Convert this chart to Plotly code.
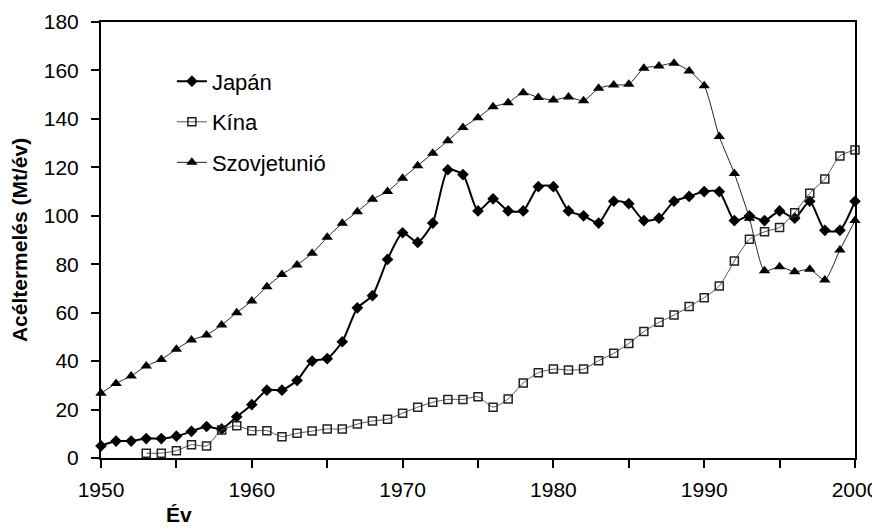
import plotly.graph_objects as go

years = list(range(1950, 2001))

japan = [5, 7, 7, 8, 8, 9, 11, 13, 12, 17,
         22, 28, 28, 32, 40, 41, 48, 62, 67, 82,
         93, 89, 97, 119, 117, 102, 107, 102, 102, 112,
         112, 102, 100, 97, 106, 105, 98, 99, 106, 108,
         110, 110, 98, 100, 98, 102, 99, 106, 94, 94,
         106]

china = [None, None, None, 2, 2, 3, 5.5, 5, 11.6, 13.3,
         11.3, 11.3, 8.8, 10.2, 11.1, 12, 12, 14, 15.3, 16,
         18.5, 21, 23, 24.2, 24.2, 25.3, 21, 24.4, 31, 35.2,
         36.7, 36.3, 36.7, 40.2, 43.2, 47.3, 52.2, 56, 59, 62.5,
         66.2, 71, 81.3, 90.3, 93.4, 95.2, 101.3, 109.3, 115.2, 124.7,
         127.2]

soviet = [26.7, 30.8, 33.9, 38, 40.7, 44.9, 48.7, 50.8, 54.9, 60,
          64.8, 70.7, 75.8, 79.7, 84.5, 91.1, 96.9, 101.7, 106.8, 110,
          115.5, 120.7, 125.8, 131, 136.4, 140.5, 145, 146.7, 150.8, 148.8,
          147.8, 149, 147.5, 152.6, 154, 154.3, 160.9, 161.8, 163, 159.8,
          153.7, 132.7, 117.5, 99, 77.3, 79, 76.9, 77.9, 73.5, 85.9,
          98]

names = ["Japán", "Kína", "Szovjetunió"]
x_tickvals = list(range(1950, 2001, 5))
x_ticktext = [str(v) if v % 10 == 0 else "" for v in x_tickvals]
y_tickvals = list(range(0, 181, 20))

fig = go.Figure()
fig.add_trace(go.Scatter(
    x=years, y=japan, name=names[0], legendgroup="a",
    mode="lines+markers", line=dict(color="black", width=2, shape="spline", smoothing=0.6),
    marker=dict(symbol="diamond", size=9, color="black"), cliponaxis=False))
fig.add_trace(go.Scatter(
    x=years, y=china, name=names[1], legendgroup="b",
    mode="lines+markers", line=dict(color="#555555", width=1, shape="spline", smoothing=0.6),
    marker=dict(symbol="square-open", size=8, color="#222222", line=dict(width=1.5)),
    cliponaxis=False))
fig.add_trace(go.Scatter(
    x=years, y=soviet, name=names[2], legendgroup="c",
    mode="lines+markers", line=dict(color="#222222", width=1, shape="spline", smoothing=0.6),
    marker=dict(symbol="triangle-up", size=10, color="black"), cliponaxis=False))

font_family = "Liberation Sans, Arial, sans-serif"

# page body has an 8px margin; the figure is sized so the plot area sits at
# x 101..855, y 22..458 of the 880x529 window
fig.update_layout(
    width=872, height=521,
    margin=dict(l=93, r=25, t=14, b=71),
    plot_bgcolor="white", paper_bgcolor="white",
    font=dict(family=font_family, color="black", size=18),
    showlegend=True,
    legend=dict(x=0.094, y=0.912, xanchor="left", yanchor="top",
                bgcolor="rgba(0,0,0,0)", font=dict(size=22, family=font_family),
                tracegroupgap=9, itemwidth=30),
    xaxis=dict(range=[1950, 2000], tickvals=x_tickvals, ticktext=x_ticktext,
               ticks="outside", ticklen=8, tickwidth=2, tickcolor="black",
               showline=True, linecolor="black", linewidth=2, mirror=True,
               showgrid=False, zeroline=False, automargin=False,
               ticklabelstandoff=4,
               tickfont=dict(size=21, family=font_family)),
    yaxis=dict(range=[0, 180], tickvals=y_tickvals,
               ticks="outside", ticklen=8, tickwidth=2, tickcolor="black",
               showline=True, linecolor="black", linewidth=2, mirror=True,
               showgrid=False, zeroline=False, automargin=False,
               ticklabelstandoff=8,
               tickfont=dict(size=21, family=font_family),
               title=dict(text="<b>Acéltermelés (Mt/év)</b>", font=dict(size=21), standoff=10)),
    annotations=[dict(text="<b>Év</b>", xref="paper", yref="paper",
                      x=(179 - 101) / 754, y=(458 - 528) / 436, xanchor="center", yanchor="bottom",
                      showarrow=False, font=dict(size=21))],
)

fig.write_html("out.html")
